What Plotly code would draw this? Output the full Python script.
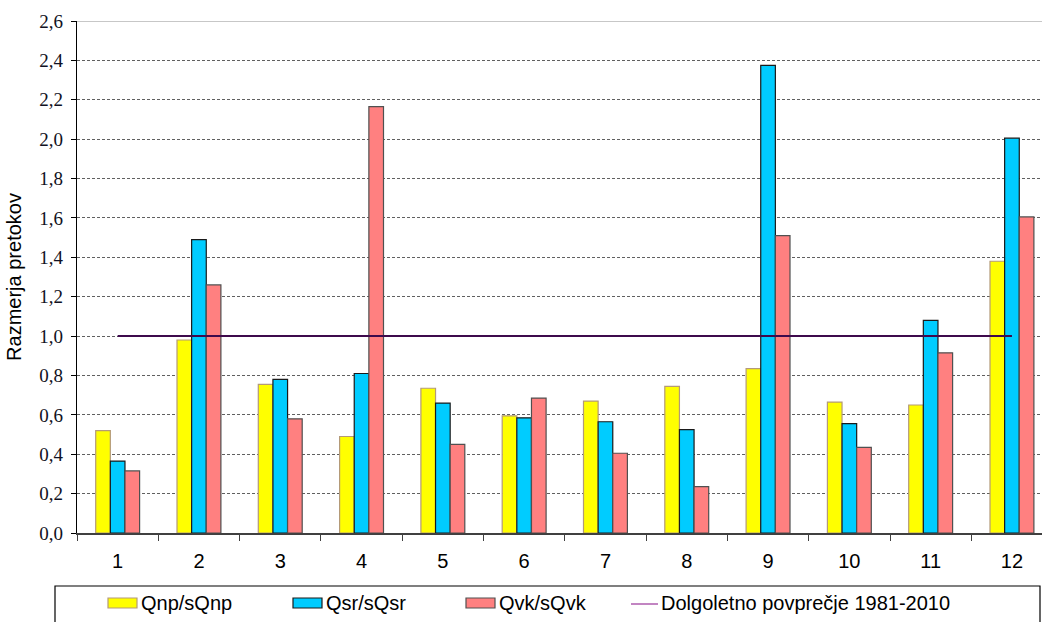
import plotly.graph_objects as go

# Monthly flow ratios against the long-term averages
months = ["1", "2", "3", "4", "5", "6", "7", "8", "9", "10", "11", "12"]
qnp = [0.52, 0.98, 0.755, 0.49, 0.735, 0.595, 0.67, 0.745, 0.835, 0.665, 0.65, 1.38]
qsr = [0.365, 1.49, 0.78, 0.81, 0.66, 0.585, 0.565, 0.525, 2.375, 0.555, 1.08, 2.005]
qvk = [0.315, 1.26, 0.58, 2.165, 0.45, 0.685, 0.405, 0.235, 1.51, 0.435, 0.915, 1.605]
longterm = [1.0] * 12

series_names = ["Qnp/sQnp", "Qsr/sQsr", "Qvk/sQvk"]
line_name = "Dolgoletno povprečje 1981-2010"
y_title = "Razmerja pretokov"

fills = ["#FFFF00", "#00CCFF", "#FF8080"]
edges = ["#B49A78", "#1A1A1A", "#505050"]

SANS = "Liberation Sans"
SERIF = "Liberation Serif"

W, H = 1042, 622
L, T, B = 77, 21, 89
R = 0
plot_w = W - L - R
plot_h = H - T - B

fig = go.Figure()
for name, vals, fc, ec in zip(series_names, [qnp, qsr, qvk], fills, edges):
    fig.add_trace(go.Bar(
        x=months, y=vals, name=name,
        marker=dict(color=fc, line=dict(color=ec, width=1.2)),
        showlegend=False,
    ))

fig.add_trace(go.Scatter(
    x=months, y=longterm, mode="lines", name=line_name,
    line=dict(color="#3E0A4C", width=2), showlegend=False,
))

# category width in px -> extend the last category past the right edge
cat_px = 81.3
x_hi = -0.5 + plot_w / cat_px

fig.update_layout(
    width=W, height=H,
    margin=dict(l=L, r=R, t=T, b=B, pad=0),
    paper_bgcolor="white", plot_bgcolor="white",
    barmode="group", bargap=0.46, bargroupgap=0,
    separators=",.",
    font=dict(family=SANS, color="black"),
)

fig.update_xaxes(
    type="category", range=[-0.5, x_hi],
    showline=True, linecolor="#404040", linewidth=1.5,
    ticks="outside", tickson="boundaries", ticklen=6, tickcolor="#404040",
    tickfont=dict(family=SANS, size=20, color="black"),
    ticklabelstandoff=9,
    showgrid=False, zeroline=False,
)

fig.update_yaxes(
    range=[0, 2.6], dtick=0.2, tick0=0, tickformat=".1f",
    showline=True, linecolor="black", linewidth=1.2,
    ticks="outside", ticklen=5, tickcolor="black",
    tickfont=dict(family=SERIF, size=19, color="#111122"),
    ticklabelstandoff=4,
    showgrid=True, gridcolor="#606060", griddash="3px,2px", gridwidth=1,
    zeroline=False,
    title=dict(text=y_title, font=dict(family=SANS, size=20), standoff=12),
)

def px_x(px):
    return (px - L) / plot_w

def px_y(py):
    return (H - B - py) / plot_h

shapes = []
# solid top boundary of the plot area
shapes.append(dict(type="line", xref="paper", yref="y", x0=0, x1=1, y0=2.6, y1=2.6,
                   line=dict(color="#B4B4B4", width=1.5), layer="above"))
# legend frame
shapes.append(dict(type="rect", xref="paper", yref="paper",
                   x0=px_x(55), x1=px_x(1040), y0=px_y(640), y1=px_y(586),
                   line=dict(color="black", width=1.2), fillcolor="white", layer="above"))

annotations = []
legend_items = [
    (108, fills[0], edges[0], series_names[0]),
    (293, fills[1], edges[1], series_names[1]),
    (466, fills[2], edges[2], series_names[2]),
]
y_mid = 603
for x0, fc, ec, label in legend_items:
    shapes.append(dict(type="rect", xref="paper", yref="paper",
                       x0=px_x(x0), x1=px_x(x0 + 29), y0=px_y(y_mid + 5), y1=px_y(y_mid - 5),
                       line=dict(color=ec, width=1.2), fillcolor=fc, layer="above"))
    annotations.append(dict(xref="paper", yref="paper", x=px_x(x0 + 31), y=px_y(y_mid),
                            text=label, showarrow=False, xanchor="left", yanchor="middle",
                            font=dict(family=SANS, size=20, color="black")))

shapes.append(dict(type="line", xref="paper", yref="paper",
                   x0=px_x(631), x1=px_x(658), y0=px_y(y_mid + 1), y1=px_y(y_mid + 1),
                   line=dict(color="#993399", width=1.2), layer="above"))
annotations.append(dict(xref="paper", yref="paper", x=px_x(659), y=px_y(y_mid),
                        text=line_name, showarrow=False, xanchor="left", yanchor="middle",
                        font=dict(family=SANS, size=20, color="black")))

fig.update_layout(shapes=shapes, annotations=annotations)

fig.write_html("out.html")
